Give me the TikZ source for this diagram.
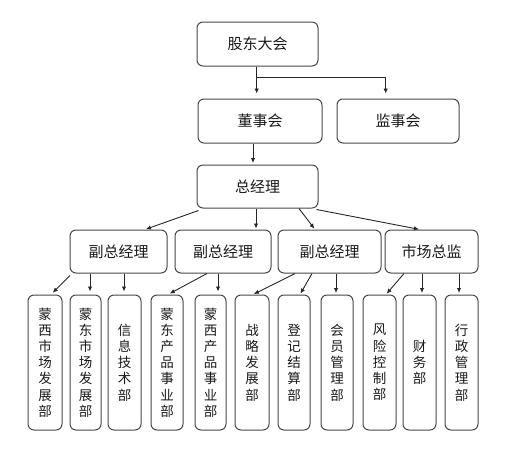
\documentclass[tikz,border=0pt]{standalone}
\usepackage{fontspec}
\newfontfamily\cjk{Noto Sans CJK SC}
\usetikzlibrary{arrows.meta,calc}
\begin{document}
\begin{tikzpicture}[x=1pt,y=-1pt,
  box/.style={draw=black!72,line width=1pt,rounded corners=6pt,inner sep=0pt,anchor=center,
    font=\cjk\fontsize{15}{18}\selectfont,text=black!90},
  big/.style={box,minimum height=43pt},
  leaf/.style={box,minimum height=135pt,align=center,
    font=\cjk\fontsize{13.5}{16.2}\selectfont},
  arr/.style={draw=black!85,line width=0.9pt,-{Latex[length=5pt,width=4.5pt]}}]
\useasboundingbox (0,0) rectangle (507,451);
\node[big,minimum width=121pt,minimum height=44pt] (gd) at (257.5,44) {股东大会};
\node[big,minimum width=124pt,minimum height=44pt] (dsh) at (260,121) {董事会};
\node[big,minimum width=122pt,minimum height=44pt] (jsh) at (398,121) {监事会};
\node[big,minimum width=121pt] (gm) at (257.5,186.5) {总经理};
\node[big,minimum width=97pt] (vp1) at (118.5,251.5) {副总经理};
\node[big,minimum width=96pt] (vp2) at (223,251.5) {副总经理};
\node[big,minimum width=103pt] (vp3) at (329.5,251.5) {副总经理};
\node[big,minimum width=93pt] (sc) at (431.5,251.5) {市场总监};
\node[leaf,minimum width=34pt] (l1) at (45,362.5) {蒙\\西\\市\\场\\发\\展\\部};
\node[leaf,minimum width=31pt] (l2) at (85.5,362.5) {蒙\\东\\市\\场\\发\\展\\部};
\node[leaf,minimum width=33pt] (l3) at (124.5,362.5) {信\\息\\技\\术\\部};
\node[leaf,minimum width=32pt] (l4) at (167,362.5) {蒙\\东\\产\\品\\事\\业\\部};
\node[leaf,minimum width=31pt] (l5) at (210.5,362.5) {蒙\\西\\产\\品\\事\\业\\部};
\node[leaf,minimum width=34pt] (l6) at (252,362.5) {战\\略\\发\\展\\部};
\node[leaf,minimum width=32pt] (l7) at (294,362.5) {登\\记\\结\\算\\部};
\node[leaf,minimum width=32pt] (l8) at (337,362.5) {会\\员\\管\\理\\部};
\node[leaf,minimum width=33pt] (l9) at (379.5,362.5) {风\\险\\控\\制\\部};
\node[leaf,minimum width=33pt] (l10) at (419.5,362.5) {财\\务\\部};
\node[leaf,minimum width=33pt] (l11) at (461.5,362.5) {行\\政\\管\\理\\部};
% top level
\coordinate (br) at ($(gd.south)+(0,10.7)$);
\draw[arr,shorten >=5pt] ([xshift=-0.8pt]gd.south) -- ([xshift=-0.8pt]gd.south |- dsh.north);
\draw[arr,shorten >=5pt] ([xshift=-0.8pt]br) -| ([xshift=-12.3pt]jsh.north);
\draw[arr,shorten >=1.5pt] ([xshift=-7pt]dsh.south) -- ([xshift=-7pt]dsh.south |- gm.north);
% gm to vps
\draw[arr,shorten >=1pt] ([xshift=2pt,yshift=-2pt]gm.south west) -- ([xshift=26.5pt]vp1.north);
\draw[arr,shorten >=1pt] ([xshift=-1.5pt]gm.south) -- ([xshift=-1.5pt]gm.south |- vp2.north);
\draw[arr,shorten >=1pt] ([xshift=41.5pt]gm.south) -- ([xshift=-14.5pt]vp3.north);
\draw[arr,shorten >=1pt] ([xshift=-2pt,yshift=-1pt]gm.south east) -- ([xshift=-11.5pt]sc.north);
% vp1
\draw[arr,shorten >=2.5pt] ([xshift=0.5pt,yshift=-2pt]vp1.south west) -- ([xshift=6pt]l1.north);
\draw[arr,shorten >=3pt] ([xshift=4.5pt]l2.north |- vp1.south) -- ([xshift=4.5pt]l2.north);
\draw[arr,shorten >=3pt] ([xshift=-0.5pt]l3.north |- vp1.south) -- ([xshift=-0.5pt]l3.north);
% vp2
\draw[arr,shorten >=2pt] ([xshift=-16pt]vp2.south) -- ([xshift=1pt]l4.north);
\draw[arr,shorten >=3pt] ([xshift=7.5pt]l5.north |- vp2.south) -- ([xshift=7.5pt]l5.north);
% vp3
\draw[arr,shorten >=1pt] ([xshift=-34.5pt]vp3.south) -- ([xshift=1pt]l6.north);
\draw[arr,shorten >=1pt] ([xshift=-17.5pt]vp3.south) -- ([xshift=6pt]l7.north);
\draw[arr,shorten >=1.5pt] ([xshift=-1pt]l8.north |- vp3.south) -- ([xshift=-1pt]l8.north);
% sc
\draw[arr,shorten >=1pt] ([xshift=-27.5pt]sc.south) -- ([xshift=6.5pt]l9.north);
\draw[arr,shorten >=1.5pt] ([xshift=2.5pt]l10.north |- sc.south) -- ([xshift=2.5pt]l10.north);
\draw[arr,shorten >=1.5pt] ([xshift=-2.5pt]l11.north |- sc.south) -- ([xshift=-2.5pt]l11.north);
\end{tikzpicture}
\end{document}
